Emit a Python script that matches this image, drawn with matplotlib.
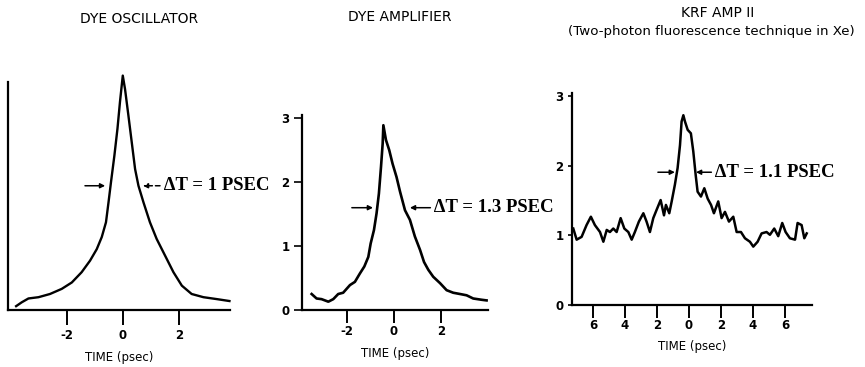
import matplotlib
matplotlib.use('Agg')
import matplotlib.pyplot as plt

# ---------------- data ----------------
osc_time = [-3.82, -3.62, -3.38, -3.02, -2.61, -2.19, -1.83, -1.48, -1.18, -0.94, -0.76, -0.61,
            -0.52, -0.43, -0.31, -0.2, -0.11, -0.01,
            0.07, 0.19, 0.31, 0.43, 0.55, 0.73, 0.96, 1.2, 1.5, 1.8, 2.1, 2.45, 2.87, 3.35, 3.8]
osc_int = [0.06, 0.12, 0.18, 0.20, 0.25, 0.33, 0.43, 0.59, 0.77, 0.95, 1.14, 1.37,
           1.68, 2.0, 2.41, 2.83, 3.25, 3.66,
           3.45, 3.04, 2.62, 2.20, 1.94, 1.68, 1.37, 1.11, 0.85, 0.59, 0.38, 0.25, 0.20, 0.17, 0.14]

amp_time = [-3.50, -3.29, -3.08, -2.79, -2.58, -2.37, -2.16, -1.87, -1.66, -1.45, -1.26, -1.09,
            -0.99, -0.85, -0.74, -0.64, -0.55, -0.48, -0.45, -0.34, -0.2, -0.06, 0.11, 0.26,
            0.47, 0.68, 0.89, 1.11, 1.28, 1.46, 1.67, 1.96, 2.24, 2.52, 2.81, 3.09, 3.37,
            3.73, 3.94]
amp_int = [0.25, 0.18, 0.17, 0.13, 0.17, 0.25, 0.27, 0.39, 0.44, 0.57, 0.68, 0.83,
           1.04, 1.25, 1.51, 1.82, 2.24, 2.60, 2.89, 2.66, 2.5, 2.29, 2.08, 1.85,
           1.56, 1.41, 1.15, 0.94, 0.75, 0.63, 0.52, 0.42, 0.31, 0.27, 0.25, 0.23, 0.18,
           0.16, 0.15]

krf_time = [-7.23, -7.02, -6.71, -6.40, -6.13, -5.88, -5.56, -5.35, -5.14, -4.94, -4.73, -4.52,
            -4.27, -4.04, -3.79, -3.58, -3.38, -3.13, -2.85, -2.65, -2.44, -2.23, -2.02, -1.77,
            -1.56, -1.44, -1.23, -1.08, -0.88, -0.71, -0.56, -0.46, -0.35, -0.25, -0.08, 0.12,
            0.27, 0.42, 0.54, 0.75, 0.96, 1.17, 1.38, 1.56, 1.83, 2.04, 2.25, 2.5, 2.77, 2.98,
            3.25, 3.5, 3.81, 4.02, 4.29, 4.54, 4.85, 5.06, 5.33, 5.58, 5.83, 6.04, 6.31, 6.63,
            6.79, 7.04, 7.21, 7.36]
krf_int = [1.10, 0.94, 0.98, 1.15, 1.27, 1.15, 1.05, 0.91, 1.08, 1.05, 1.10, 1.05,
           1.25, 1.10, 1.05, 0.94, 1.05, 1.20, 1.32, 1.20, 1.05, 1.25, 1.37, 1.51,
           1.29, 1.44, 1.32, 1.49, 1.73, 1.97, 2.30, 2.64, 2.73, 2.64, 2.52, 2.47,
           2.21, 1.87, 1.63, 1.56, 1.68, 1.53, 1.44, 1.32, 1.49, 1.25, 1.34, 1.20, 1.27, 1.05,
           1.05, 0.96, 0.91, 0.84, 0.91, 1.03, 1.05, 1.01, 1.10, 0.99, 1.18, 1.05, 0.96, 0.94,
           1.18, 1.15, 0.96, 1.03]

osc_xticks = [-2, 0, 2]
osc_xticklabels = ['-2', '0', '2']
amp_xticks = [-2, 0, 2]
amp_xticklabels = ['-2', '0', '2']
amp_yticks = [0, 1, 2, 3]
krf_xticks = [-6, -4, -2, 0, 2, 4, 6]
krf_xticklabels = ['6', '4', '2', '0', '2', '4', '6']
krf_yticks = [0, 1, 2, 3]

titles = ['DYE OSCILLATOR', 'DYE AMPLIFIER', 'KRF AMP II']
subtitle = '(Two-photon fluorescence technique in Xe)'
xlabel = 'TIME (psec)'
fwhm_labels = ['\u0394T = 1 PSEC', '\u0394T = 1.3 PSEC', '\u0394T = 1.1 PSEC']

# ---------------- figure ----------------
W, H = 865, 367
fig = plt.figure(figsize=(W / 100, H / 100), dpi=100)
fig.patch.set_facecolor('white')


def px_axes(l, r, top, bottom):
    return fig.add_axes([l / W, 1 - bottom / H, (r - l) / W, (bottom - top) / H])


ax1 = px_axes(8, 230, 82, 310)
ax2 = px_axes(302, 488, 115, 310)
ax3 = px_axes(572, 812, 93, 305)

lab_font = dict(family='Liberation Sans Narrow', fontweight='bold', fontsize=8.5)
ann_font = dict(family='Liberation Serif', fontweight='bold', fontsize=13.5)

for ax in (ax1, ax2, ax3):
    for s in ('top', 'right'):
        ax.spines[s].set_visible(False)
    for s in ('left', 'bottom'):
        ax.spines[s].set_linewidth(1.6)
        ax.spines[s].set_color('black')
    ax.set_facecolor('white')

# Panel 1
ax1.plot(osc_time, osc_int, color='black', lw=1.7, clip_on=False)
ax1.set_xlim(-4.11, 3.82)
ax1.set_ylim(0, 3.56)
ax1.set_xticks(osc_xticks)
ax1.set_xticklabels(osc_xticklabels, **lab_font)
ax1.set_yticks([])
ax1.tick_params(axis='x', direction='out', length=11, width=1.4, pad=3)

# Panel 2
ax2.plot(amp_time, amp_int, color='black', lw=1.9)
ax2.set_xlim(-3.91, 4.0)
ax2.set_ylim(0, 3.05)
ax2.set_xticks(amp_xticks)
ax2.set_xticklabels(amp_xticklabels, **lab_font)
ax2.set_yticks(amp_yticks)
ax2.set_yticklabels([str(v) for v in amp_yticks], **lab_font)
ax2.tick_params(axis='x', direction='out', length=9, width=1.4, pad=2)
ax2.tick_params(axis='y', direction='out', length=6, width=1.2, pad=3)

# Panel 3
ax3.plot(krf_time, krf_int, color='black', lw=1.8)
ax3.set_xlim(-7.31, 7.69)
ax3.set_ylim(0, 3.05)
ax3.set_xticks(krf_xticks)
ax3.set_xticklabels(krf_xticklabels, **lab_font)
ax3.set_yticks(krf_yticks)
ax3.set_yticklabels([str(v) for v in krf_yticks], **lab_font)
ax3.tick_params(axis='x', direction='out', length=9, width=1.4, pad=1)
ax3.tick_params(axis='y', direction='out', length=3, width=1.2, pad=3)

# xlabels
for ax in (ax1, ax2, ax3):
    ax.set_xlabel(xlabel, family='Liberation Sans Narrow', fontsize=8.5, labelpad=6)

# FWHM arrows + labels
arrow_kw = dict(arrowstyle='-|>', color='black', lw=1.1, mutation_scale=7, shrinkA=0, shrinkB=0)


def fwhm(ax, y, lt, ltip, rt, rtip, text, dashed=False):
    ax.annotate('', xy=(ltip, y), xytext=(lt, y), arrowprops=arrow_kw, annotation_clip=False)
    kw = dict(arrow_kw)
    if dashed:
        kw['linestyle'] = (0, (3, 2))
    ax.annotate('', xy=(rtip, y), xytext=(rt, y), arrowprops=kw, annotation_clip=False)
    ax.text(rt, y, ' ' + text, va='center', ha='left', clip_on=False, **ann_font)


fwhm(ax1, 1.94, -1.36, -0.64, 1.32, 0.71, fwhm_labels[0], dashed=True)
fwhm(ax2, 1.60, -1.79, -0.89, 1.55, 0.68, fwhm_labels[1])
fwhm(ax3, 1.91, -1.94, -0.88, 1.4, 0.44, fwhm_labels[2])

# titles
title_font = dict(family='DejaVu Sans', fontsize=10, ha='center', va='center')
fig.text(139 / W, 1 - 19 / H, titles[0], **title_font)
fig.text(400 / W, 1 - 17 / H, titles[1], **title_font)
fig.text(718 / W, 1 - 13 / H, titles[2], **title_font)
fig.text(711 / W, 1 - 32 / H, subtitle, family='DejaVu Sans', fontsize=9.6, ha='center', va='center')

fig.savefig('out.png', dpi=100, facecolor='white')
